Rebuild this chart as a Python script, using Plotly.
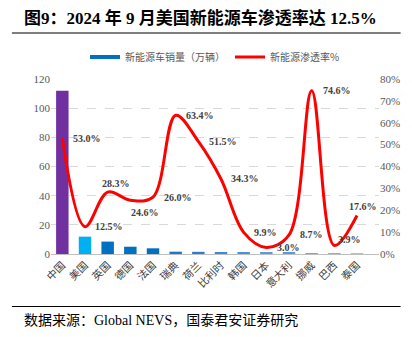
import plotly.graph_objects as go

categories = ["中国", "美国", "英国", "德国", "法国", "瑞典", "荷兰", "比利时", "韩国", "日本", "意大利", "挪威", "巴西", "泰国"]
sales = [112, 11.9, 8.5, 5.0, 3.9, 1.6, 1.5, 1.0, 1.0, 0.8, 0.8, 0.6, 0.5, 0.4]
penetration = [53.0, 12.5, 28.3, 24.6, 26.0, 63.4, 51.5, 34.3, 9.9, 3.0, 8.7, 74.6, 3.9, 17.6]
left_ticks = [0, 20, 40, 60, 80, 100, 120]
right_ticks = [0, 10, 20, 30, 40, 50, 60, 70, 80]
right_tick_text = [f"{t}%" for t in right_ticks]

bar_colors = ["#7030A0", "#00B0F0", "#0070C0", "#0070C0", "#0070C0", "#1F77C8", "#2A7FCC",
              "#3D8AD0", "#4A92D3", "#5B9BD5", "#5B9BD5", "#6FA8DC", "#7FB2E0", "#9DC3E6"]
label_shift = [(9, 0), (8, 0), (-8, -9), (-1, 12), (9, 0), (8, 0), (9, 0), (8, 0),
               (8, 0), (9, 0), (9, 0), (9, 0), (2, -6), (-10, -9)]

fig = go.Figure()
fig.add_trace(go.Bar(x=categories, y=sales, marker=dict(color=bar_colors, line=dict(width=0)),
                     width=0.55, showlegend=False, yaxis="y"))
fig.add_trace(go.Scatter(x=[categories[0]], y=[None], mode="lines", name="新能源车销量（万辆）",
                         line=dict(color="#0070C0", width=4), yaxis="y"))
fig.add_trace(go.Scatter(x=categories, y=penetration, mode="lines", name="新能源渗透率%",
                         line=dict(color="#FF0000", width=3, shape="spline", smoothing=1.0),
                         yaxis="y2"))

for c, v, (dx, dy) in zip(categories, penetration, label_shift):
    fig.add_annotation(x=c, y=v, yref="y2", text=f"{v:.1f}%", showarrow=False,
                       xanchor="left", yanchor="middle", xshift=dx, yshift=-dy,
                       font=dict(family="Liberation Serif", size=10, color="#404040", weight="bold"))

fig.add_annotation(xref="paper", yref="paper", x=-29 / 327.4, y=1 + (79 - 18) / 175,
                   text="<b>图9：2024 年 9 月美国新能源车渗透率达 12.5%</b>", showarrow=False,
                   xanchor="left", yanchor="middle",
                   font=dict(family="Liberation Serif, Noto Sans CJK SC", size=17, color="#000000"))
fig.add_annotation(xref="paper", yref="paper", x=-29 / 327.4, y=-(320 - 254) / 175,
                   text="数据来源：Global NEVS，国泰君安证券研究", showarrow=False,
                   xanchor="left", yanchor="middle",
                   font=dict(family="Liberation Serif, Noto Sans CJK SC", size=14, color="#000000"))

fig.add_shape(type="line", xref="paper", yref="paper", x0=-39 / 327.4, x1=(400 - 51) / 327.4,
              y0=1 + (79 - 33) / 175, y1=1 + (79 - 33) / 175, line=dict(color="#000000", width=1))
fig.add_shape(type="line", xref="paper", yref="paper", x0=-39 / 327.4, x1=(400 - 51) / 327.4,
              y0=-(306.5 - 254) / 175, y1=-(306.5 - 254) / 175, line=dict(color="#000000", width=1))

tickfont = dict(family="Liberation Serif", size=11, color="#595959")
fig.update_layout(
    width=412, height=337,
    margin=dict(l=51, r=33, t=79, b=83),
    paper_bgcolor="white", plot_bgcolor="white",
    bargap=0.45,
    xaxis=dict(type="category", tickangle=-45, showgrid=False, showline=True, linecolor="#BFBFBF",
               ticks="", automargin=False,
               tickfont=dict(family="Noto Sans CJK SC", size=10.5, color="#404040")),
    yaxis=dict(range=[0, 120], tickvals=left_ticks, showgrid=True, gridcolor="#D9D9D9",
               griddash="dash", zeroline=False, showline=False, tickfont=tickfont, ticks="",
               automargin=False),
    yaxis2=dict(range=[0, 80], tickvals=right_ticks, ticktext=right_tick_text, overlaying="y",
                side="right", showgrid=False, zeroline=False, showline=False, tickfont=tickfont,
                ticks="", automargin=False),
    legend=dict(orientation="h", x=0.5, xanchor="center", y=1 + (79 - 57) / 175, yanchor="middle",
                font=dict(family="Noto Sans CJK SC", size=10, color="#595959"),
                itemwidth=30, bgcolor="rgba(0,0,0,0)"),
)

fig.write_html("out.html")
